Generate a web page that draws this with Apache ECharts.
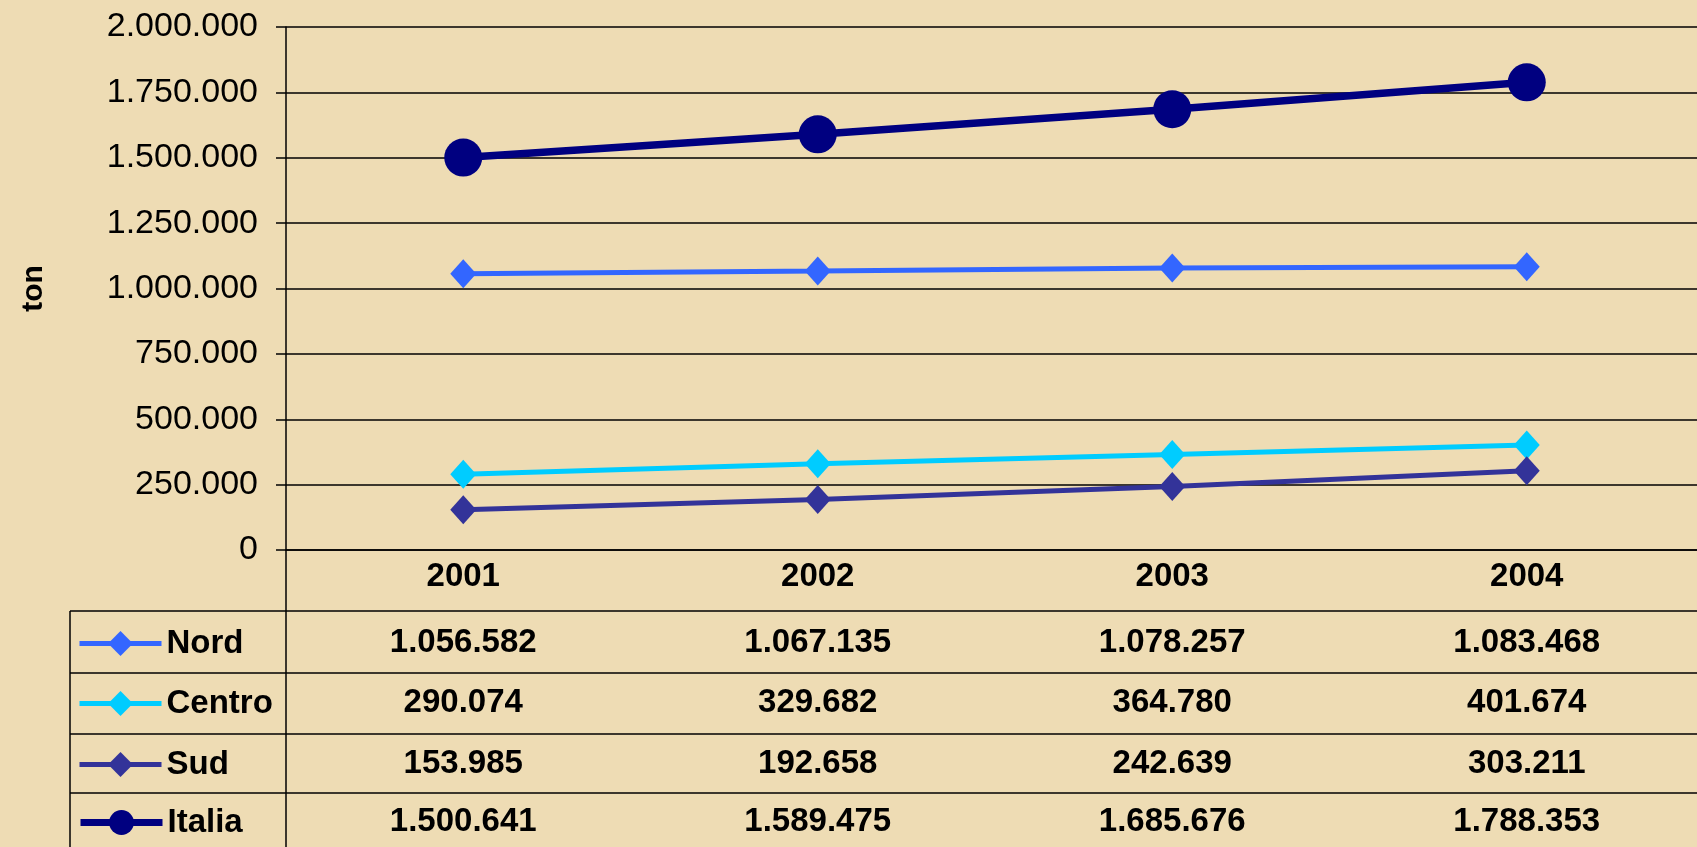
<!DOCTYPE html>
<html>
<head>
<meta charset="utf-8">
<script src="https://cdn.jsdelivr.net/npm/echarts@6/dist/echarts.min.js"></script>
<style>
html,body{margin:0;padding:0;background:#EEDCB4;}
#c{width:1697px;height:847px;}
</style>
</head>
<body>
<div id="c"></div>
<script>
// ---- data ----
const categories = ['2001', '2002', '2003', '2004'];
const nord   = [1056582, 1067135, 1078257, 1083468];
const centro = [290074, 329682, 364780, 401674];
const sud    = [153985, 192658, 242639, 303211];
const italia = [1500641, 1589475, 1685676, 1788353];
const seriesNames = ['Nord', 'Centro', 'Sud', 'Italia'];
const yMin = 0, yMax = 2000000, yStep = 250000;
const yAxisTitle = 'ton';

// ---- helpers ----
const fmt = n => String(n).replace(/\B(?=(\d{3})+(?!\d))/g, '.');
const FONT = '"Liberation Sans", Arial, Helvetica, sans-serif';
const colors = ['#3366FF', '#00CCFF', '#333399', '#000080'];
const allValues = [nord, centro, sud, italia];

// layout
const L = {gridLeft: 286, gridTop: 27, gridW: 1418, gridH: 523, W: 1697, H: 847,
  tableLeft: 70, rowLines: [611, 673, 734, 793],
  yearCenter: 577, rowCenters: [643, 703, 764, 822]};
const axisY = L.gridTop + L.gridH;

const chart = echarts.init(document.getElementById('c'), null, {renderer: 'canvas'});

const xAxes = [{
  type: 'category', gridIndex: 0, position: 'bottom', data: categories,
  boundaryGap: true,
  axisLine: {show: true, lineStyle: {color: '#000', width: 1.5}},
  axisTick: {show: false}, splitLine: {show: false},
  axisLabel: {interval: 0, margin: L.yearCenter - axisY, verticalAlign: 'middle',
    color: '#000', fontSize: 33, fontWeight: 'bold', fontFamily: FONT}
}];
allValues.forEach((vals, k) => {
  xAxes.push({
    type: 'category', gridIndex: 0, position: 'bottom', data: categories,
    boundaryGap: true,
    axisLine: {show: false}, axisTick: {show: false}, splitLine: {show: false},
    axisLabel: {interval: 0, margin: L.rowCenters[k] - axisY, verticalAlign: 'middle',
      color: '#000', fontSize: 33, fontWeight: 'bold', fontFamily: FONT,
      formatter: (v, i) => fmt(vals[i])}
  });
});

const series = allValues.map((vals, k) => {
  const isItalia = k === 3;
  return {
    name: seriesNames[k], type: 'line', xAxisIndex: 0, yAxisIndex: 0,
    data: vals,
    symbol: isItalia ? 'circle' : 'diamond',
    symbolSize: isItalia ? 38 : [26, 29],
    showAllSymbol: true,
    lineStyle: {color: colors[k], width: isItalia ? 7.5 : 5},
    itemStyle: {color: colors[k], borderWidth: 0},
    emphasis: {disabled: true},
    animation: false,
    z: 3 + k
  };
});

const legends = seriesNames.map((name, k) => ({
  data: [name], orient: 'vertical', left: 77, top: L.rowCenters[k] - 16,
  padding: 0, itemWidth: 82, itemHeight: 31, itemGap: 0,
  selectedMode: false,
  lineStyle: {width: k === 3 ? 7 : 5},
  textStyle: {color: '#000', fontSize: 33, fontWeight: 'bold', fontFamily: FONT, lineHeight: 32}
}));

const lineStyle = {stroke: '#000', lineWidth: 1.5};
const graphics = [];
L.rowLines.forEach(y => graphics.push({type: 'line', shape: {x1: L.tableLeft, y1: y, x2: L.W, y2: y}, style: lineStyle, silent: true}));
graphics.push({type: 'line', shape: {x1: L.tableLeft, y1: L.rowLines[0], x2: L.tableLeft, y2: L.H}, style: lineStyle, silent: true});
graphics.push({type: 'line', shape: {x1: L.gridLeft, y1: axisY, x2: L.gridLeft, y2: L.H}, style: lineStyle, silent: true});

chart.setOption({
  backgroundColor: '#EEDCB4',
  animation: false,
  textStyle: {fontFamily: FONT},
  grid: {left: L.gridLeft, top: L.gridTop, width: L.gridW, height: L.gridH,
    containLabel: false, outerBoundsMode: 'none'},
  xAxis: xAxes,
  yAxis: [{
    type: 'value', min: yMin, max: yMax, interval: yStep,
    name: yAxisTitle, nameLocation: 'middle', nameRotate: 90, nameGap: 237,
    nameTextStyle: {color: '#000', fontSize: 30, fontWeight: 'bold', fontFamily: FONT},
    axisLine: {show: true, lineStyle: {color: '#000', width: 1.5}},
    axisTick: {show: true, inside: false, length: 10, lineStyle: {color: '#000', width: 1.5}},
    splitLine: {show: true, lineStyle: {color: '#000', width: 1.5}},
    axisLabel: {margin: 28, color: '#000', fontSize: 34, fontFamily: FONT, formatter: v => fmt(v)}
  }],
  legend: legends,
  series: series,
  graphic: graphics
});
</script>
</body>
</html>
